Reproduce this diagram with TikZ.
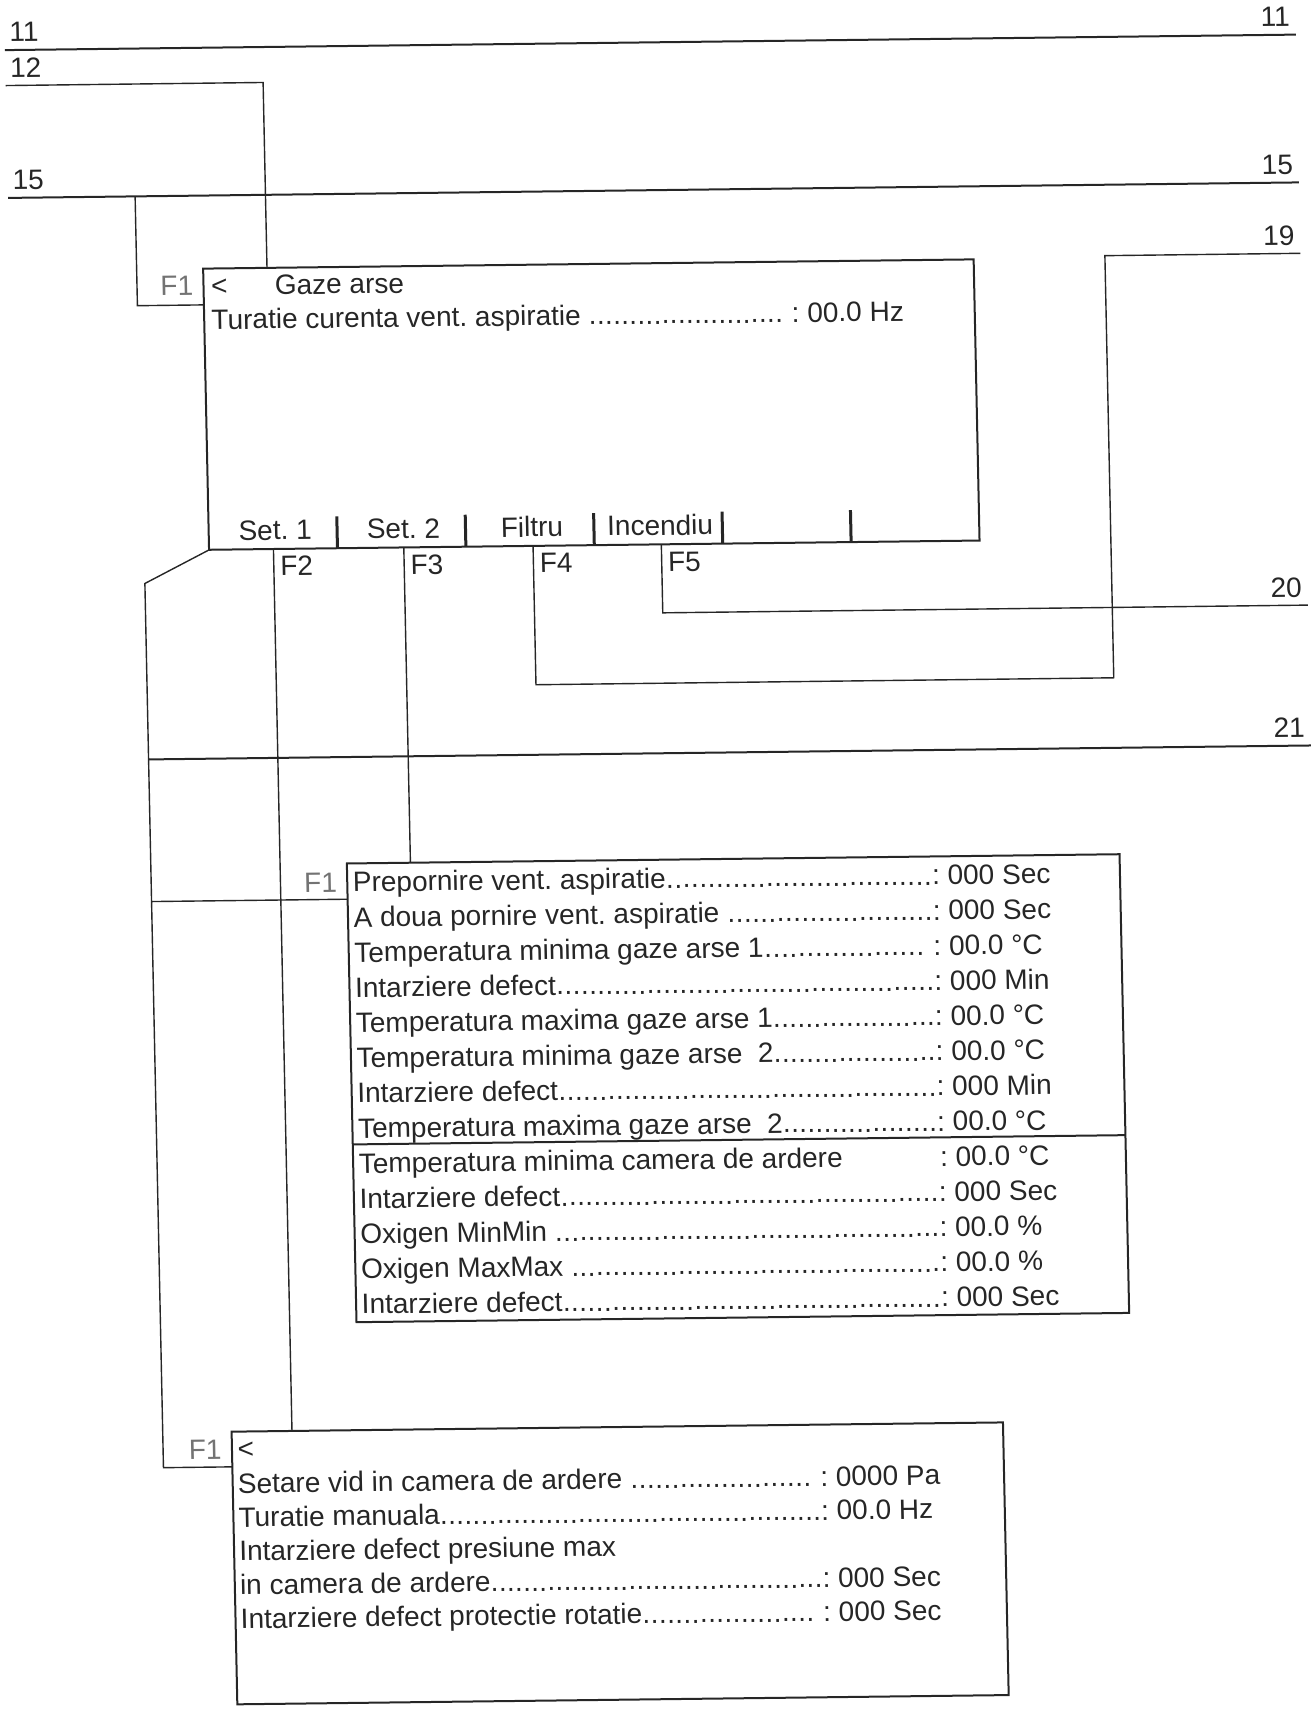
\documentclass[tikz,border=0pt]{standalone}
\usepackage{fontspec}
\setmainfont{Liberation Sans}
\frenchspacing
\newdimen\ux
\ux=0.54535pt
\newcommand{\dotlead}{\xleaders\hbox to 7.4\ux{\hss.\hss}\hskip 0pt plus 1fill}
\newcommand{\vrow}[3]{\makebox[#1\ux][l]{#2\dotlead}: #3}
\newcommand{\vrowsp}[3]{\makebox[#1\ux][l]{#2\dotlead\hspace{8\ux}}: #3}
\newcommand{\vrowno}[3]{\makebox[#1\ux][l]{#2}: #3}
\tikzset{
 basetxt/.style={inner sep=0pt, outer sep=0pt, text=black!85, font=\fontsize{14pt}{16pt}\selectfont},
 txt/.style={basetxt, anchor=base west},
 numl/.style={basetxt, anchor=base west},
 numr/.style={basetxt, anchor=base east},
 fone/.style={basetxt, anchor=base east, text=black!55},
 fkey/.style={basetxt, anchor=base west},
 skey/.style={basetxt, anchor=base},
 screen/.style={draw=black!85, line width=1.0pt, rectangle, inner sep=0pt, outer sep=0pt},
 bus/.style={black!85, line width=1.0pt},
 wire/.style={black!85, line width=0.7pt},
 bar/.style={black!85, line width=1.5pt},
}
\begin{document}
\begin{tikzpicture}[x=0.54535pt,y=-0.54535pt]
\useasboundingbox (0,0) rectangle (1202,1568);
\begin{scope}[shift={(600,800)}, cm={1,0.012,-0.021,1,(0,0)}, shift={(-600,-800)}, transform shape]

% ---------- screens ----------
\node[screen, minimum width=706.5*\ux, minimum height=257.8*\ux] (topbox) at (551.25,370.4) {};
\node[screen, minimum width=708.5*\ux, minimum height=420.6*\ux] (midbox) at (672.55,998.7) {};
\node[screen, minimum width=707.3*\ux, minimum height=250*\ux] (botbox) at (555.35,1433) {};
\draw[bus] (318.3,1046) -- (1026.8,1046);

% soft key separators
\foreach \u in {315.75,433.5,551.25,669,786.75}
  \draw[bar] (\u,470) -- (\u,499.3);

% ---------- coordinates ----------
\coordinate (c11L) at (20.5,39);   \coordinate (c11R) at (1204,39);
\coordinate (c12L) at (20.5,71.5); \coordinate (c12K) at (256.5,71.5); \coordinate (c12B) at (256.5,241.5);
\coordinate (c15L) at (20.5,174.5); \coordinate (c15R) at (1204,174.5);
\coordinate (c15K) at (137,174.5); \coordinate (c15D) at (137,274.7); \coordinate (c15E) at (198,274.7);
\coordinate (cDg) at (138.5,529.4); \coordinate (cLb) at (138.5,1340); \coordinate (cLe) at (201.7,1340);
\coordinate (c21L) at (138.5,690.7); \coordinate (c21R) at (1206,690.7);
\coordinate (cMk) at (138.5,821); \coordinate (cMe) at (318.3,821);
\coordinate (cF2t) at (257,499.3); \coordinate (cF2b) at (257,1308);
\coordinate (cF3t) at (376.5,499.3); \coordinate (cF3b) at (376.5,788.4);
\coordinate (cF4t) at (495,499.3); \coordinate (cF4a) at (495,626.5);
\coordinate (cF4b) at (1024.7,626.5); \coordinate (cF4c) at (1024.7,239.5); \coordinate (c19R) at (1204,239.5);
\coordinate (cF5t) at (612.6,499.3); \coordinate (cF5a) at (612.6,562); \coordinate (c20R) at (1204,562);

% ---------- lines ----------
\draw[bus] (c11L) -- (c11R);
\draw[wire] (c12L) -- (c12K) -- (c12B);
\draw[bus] (c15L) -- (c15R);
\draw[wire] (c15K) -- (c15D) -- (c15E);
\draw[wire] (topbox.south west) -- (cDg) -- (cLb) -- (cLe);
\draw[bus] (c21L) -- (c21R);
\draw[wire] (cMk) -- (cMe);
\draw[wire] (cF2t) -- (cF2b);
\draw[wire] (cF3t) -- (cF3b);
\draw[wire] (cF4t) -- (cF4a) -- (cF4b) -- (cF4c) -- (c19R);
\draw[wire] (cF5t) -- (cF5a) -- (c20R);

% ---------- line labels ----------
\node[numl] (n11l) at (25,31) {11};
\node[numr] (n11r) at (1199,31.5) {11};
\node[numl] (n12) at (25,64) {12};
\node[numl] (n15l) at (25,167) {15};
\node[numr] (n15r) at (1199,167) {15};
\node[numr] (n19) at (1199,232) {19};
\node[numr] (n20) at (1199,554.5) {20};
\node[numr] (n21) at (1199,683.5) {21};

% ---------- F labels ----------
\node[fone] (f1a) at (188.5,266) {F1};
\node[fone] (f1b) at (308.8,814.5) {F1};
\node[fone] (f1c) at (192.2,1333) {F1};
\node[fkey] (f2) at (263,524) {F2};
\node[fkey] (f3) at (382.5,524) {F3};
\node[fkey] (f4) at (501,524) {F4};
\node[fkey] (f5) at (618.6,524) {F5};

% ---------- top screen ----------
\node[txt] (tlt) at (205,266) {<};
\node[txt] (ttitle) at (263.4,266) {Gaze arse};
\node[txt] (trow) at (204.7,297.3) {\vrowsp{532}{Turatie curenta vent. aspiratie\ }{00.0 Hz}};
\node[skey] (sk1) at (259,491) {Set. 1};
\node[skey] (sk2) at (376.6,491) {Set. 2};
\node[skey] (sk3) at (494.4,491) {Filtru};
\node[skey] (sk4) at (612,491) {Incendiu};

% ---------- middle screen ----------
\node[txt] (m1)  at (323.5,814.5)  {\vrow{531}{Prepornire vent. aspiratie}{000 Sec}};
\node[txt] (m2)  at (323.5,846.75) {\vrow{531}{A doua pornire vent. aspiratie\ }{000 Sec}};
\node[txt] (m3)  at (323.5,879)    {\vrowsp{531}{Temperatura minima gaze arse 1}{00.0 °C}};
\node[txt] (m4)  at (323.5,911.25) {\vrow{531}{Intarziere defect}{000 Min}};
\node[txt] (m5)  at (323.5,943.5)  {\vrow{531}{Temperatura maxima gaze arse 1}{00.0 °C}};
\node[txt] (m6)  at (323.5,975.75) {\vrow{531}{Temperatura minima gaze arse\ \ 2}{00.0 °C}};
\node[txt] (m7)  at (323.5,1008)   {\vrow{531}{Intarziere defect}{000 Min}};
\node[txt] (m8)  at (323.5,1040.25){\vrow{531}{Temperatura maxima gaze arse\ \ 2}{00.0 °C}};
\node[txt] (m9)  at (323.5,1072.5) {\vrowno{533}{Temperatura minima camera de ardere}{00.0 °C}};
\node[txt] (m10) at (323.5,1104.75){\vrow{531}{Intarziere defect}{000 Sec}};
\node[txt] (m11) at (323.5,1137)   {\vrow{531}{Oxigen MinMin\ }{00.0 \%}};
\node[txt] (m12) at (323.5,1169.25){\vrow{531}{Oxigen MaxMax\ }{00.0 \%}};
\node[txt] (m13) at (323.5,1201.5) {\vrow{531}{Intarziere defect}{000 Sec}};

% ---------- bottom screen ----------
\node[txt] (blt) at (207,1333) {<};
\node[txt] (b1) at (206.5,1364.5) {\vrowsp{534}{Setare vid in camera de ardere\ }{0000 Pa}};
\node[txt] (b2) at (206.5,1395.5) {\vrow{534}{Turatie manuala}{00.0 Hz}};
\node[txt] (b3) at (206.5,1426.5) {Intarziere defect presiune max};
\node[txt] (b4) at (206.5,1457.5) {\vrow{534}{in camera de ardere}{000 Sec}};
\node[txt] (b5) at (206.5,1488.5) {\vrowsp{534}{Intarziere defect protectie rotatie}{000 Sec}};

\end{scope}
\end{tikzpicture}
\end{document}
